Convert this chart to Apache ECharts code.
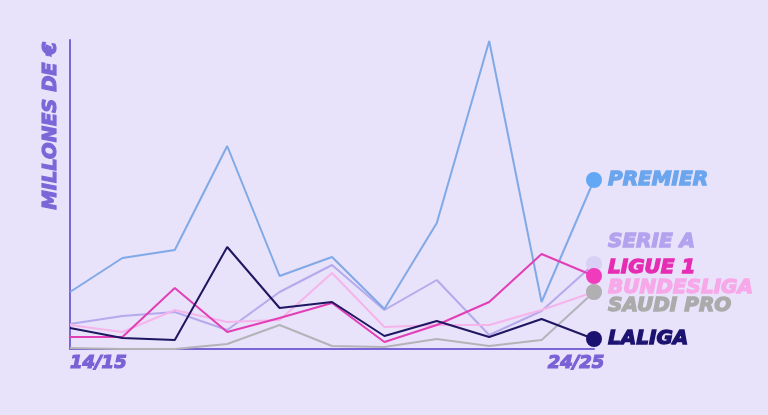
<!DOCTYPE html>
<html>
<head>
<meta charset="utf-8">
<script src="https://cdn.jsdelivr.net/npm/echarts@6/dist/echarts.min.js"></script>
<style>
html,body{margin:0;padding:0;background:#e8e2fb;}
#chart{width:768px;height:415px;}
</style>
</head>
<body>
<div id="chart"></div>
<script>
const seasons = ['14/15','15/16','16/17','17/18','18/19','19/20','20/21','21/22','22/23','23/24','24/25'];
const premier    = [57, 91, 99, 203, 73, 92, 40, 126, 308, 47, 169];
const serieA     = [25, 33, 37, 19, 57, 84, 39, 69, 14, 38, 85];
const bundesliga = [24, 17, 39, 27, 29, 76, 22, 24, 24, 39, 57];
const saudiPro   = [1, 0, 0, 5, 24, 3, 2, 10, 3, 9, 57];
const ligue1     = [12, 12, 61, 17, 31, 46, 7, 24, 47, 95, 73];
const laliga     = [21, 11, 9, 102, 41, 47, 13, 28, 12, 30, 10];

const FONT = '"DejaVu Sans"';
const last = seasons.length - 1;

function mk(name, data, lineColor, dotColor, labelColor, dy) {
  return {
    name: name,
    type: 'line',
    data: data,
    symbol: 'circle',
    showSymbol: true,
    showAllSymbol: true,
    symbolSize: function (v, p) { return p.dataIndex === last ? 16 : 0; },
    lineStyle: { color: lineColor, width: 2 },
    itemStyle: { color: dotColor },
    emphasis: { disabled: true },
    animation: false,
    endLabel: {
      show: true,
      formatter: name.toUpperCase(),
      color: labelColor,
      textBorderColor: labelColor,
      textBorderWidth: 1.3,
      fontFamily: FONT,
      fontWeight: 'bold',
      fontStyle: 'italic',
      fontSize: 20,
      distance: 14,
      offset: [0, dy]
    }
  };
}

const tickStyle = {
  color: '#7a62d6',
  textBorderColor: '#7a62d6',
  textBorderWidth: 1.2,
  fontFamily: FONT,
  fontWeight: 'bold',
  fontStyle: 'italic',
  fontSize: 18
};

const chart = echarts.init(document.getElementById('chart'), null, { renderer: 'canvas' });
chart.setOption({
  backgroundColor: '#e8e2fb',
  animation: false,
  grid: { left: 70, right: 174, top: 40, bottom: 66 },
  xAxis: {
    type: 'category',
    data: seasons,
    boundaryGap: false,
    axisLine: { lineStyle: { color: '#7a66d4', width: 2 } },
    axisTick: { show: false },
    splitLine: { show: false },
    axisLabel: Object.assign({
      interval: 0,
      formatter: function (v, i) {
        if (i === 0) return '{a|' + v + '}';
        if (i === last) return '{b|' + v + '}';
        return '';
      },
      alignMinLabel: 'left',
      alignMaxLabel: 'center',
      margin: 5,
      rich: {
        a: Object.assign({}, tickStyle),
        b: Object.assign({ padding: [0, 36, 0, 0] }, tickStyle)
      }
    }, tickStyle)
  },
  yAxis: {
    type: 'value',
    min: 0,
    max: 309,
    axisLine: { show: true, lineStyle: { color: '#7a66d4', width: 2 } },
    axisTick: { show: false },
    axisLabel: { show: false },
    splitLine: { show: false }
  },
  graphic: [{
    type: 'text',
    x: 51,
    y: 42,
    rotation: Math.PI / 2,
    style: {
      text: 'MILLONES DE €',
      fill: '#7b66d8',
      stroke: '#7b66d8',
      lineWidth: 1.2,
      font: 'italic bold 19.5px "DejaVu Sans"',
      textAlign: 'right',
      textVerticalAlign: 'middle'
    }
  }],
  series: [
    mk('Serie A', serieA, '#b6a9ec', '#d9d0f6', '#b3a3ee', -22),
    mk('Bundesliga', bundesliga, '#f6b5ea', '#f6b5ea', '#f7a8e8', -4),
    mk('Saudi Pro', saudiPro, '#b4b4b8', '#b0b0b2', '#ababab', 14),
    mk('Premier', premier, '#80a9e6', '#62a8f4', '#6aa5ee', 0),
    mk('Ligue 1', ligue1, '#e23fb6', '#f03cbc', '#e52cb3', -8),
    mk('LaLiga', laliga, '#1e1660', '#1c1270', '#1c1270', 0)
  ]
});
</script>
</body>
</html>
